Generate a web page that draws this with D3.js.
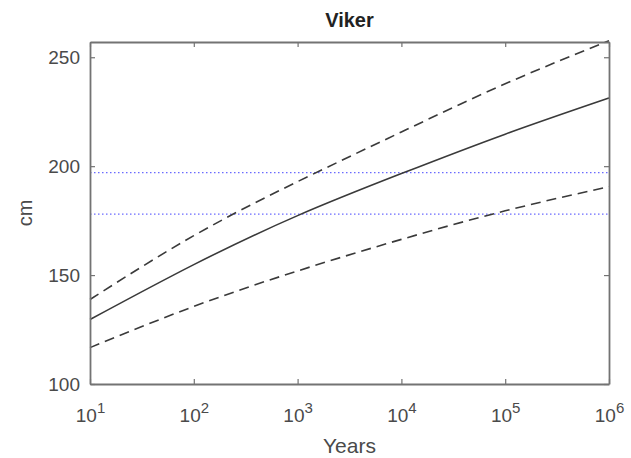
<!DOCTYPE html>
<html>
<head>
<meta charset="utf-8">
<script src="https://cdn.jsdelivr.net/npm/d3@7"></script>
<style>
body { margin:0; background:#fff; }
text { font-family: "Liberation Sans", Arial, sans-serif; }
</style>
</head>
<body>
<svg id="chart"></svg>
<script>
var years = [10, 100, 1000, 10000, 100000, 1000000];
var median = [129.6, 154.8, 177.3, 196.6, 214.7, 231.3];
var upper = [138.8, 168.1, 192.9, 215.7, 237.8, 257.6];
var lower = [116.7, 135.6, 151.9, 166.4, 179.5, 190.6];
var refLines = [197, 178];
var yTicks = [100, 150, 200, 250];
var xTicks = [1, 2, 3, 4, 5, 6]; // exponents

var screen = { width: 631, height: 458 };
var margins = { top: 42, bottom: 74, left: 90, right: 22 };
var width = screen.width - margins.left - margins.right;
var height = screen.height - margins.top - margins.bottom;

var svg = d3.select("#chart")
  .attr("width", screen.width)
  .attr("height", screen.height);

var xScale = d3.scaleLog().domain([10, 1e6]).range([0, width]);
var yScale = d3.scaleLinear().domain([100, 257]).range([height, 0]);

var plot = svg.append("g")
  .attr("transform", "translate(" + margins.left + "," + margins.top + ")");

// reference lines (blue dotted)
plot.selectAll("line.ref")
  .data(refLines)
  .enter()
  .append("line")
  .attr("class", "ref")
  .attr("x1", 0).attr("x2", width)
  .attr("y1", function(d) { return yScale(d); })
  .attr("y2", function(d) { return yScale(d); })
  .attr("stroke", "#6a6aff")
  .attr("stroke-width", 1.3)
  .attr("stroke-dasharray", "1.5,2.5");

var line = d3.line()
  .x(function(d, i) { return xScale(years[i]); })
  .y(function(d) { return yScale(d); })
  .curve(d3.curveNatural);

var series = [
  { values: upper, dash: "10,6" },
  { values: median, dash: null },
  { values: lower, dash: "10,6" }
];

plot.selectAll("path.curve")
  .data(series)
  .enter()
  .append("path")
  .attr("class", "curve")
  .attr("d", function(d) { return line(d.values); })
  .attr("fill", "none")
  .attr("stroke", "#3a3a3a")
  .attr("stroke-width", 1.6)
  .attr("stroke-dasharray", function(d) { return d.dash; });

// axes box with inward ticks
var axisColor = "#737373";
var tickLen = 5;

var xAxis = d3.axisBottom(xScale)
  .tickValues(xTicks.map(function(e) { return Math.pow(10, e); }))
  .tickSizeInner(-tickLen).tickSizeOuter(0)
  .tickFormat("");
var xAxisTop = d3.axisTop(xScale)
  .tickValues(xTicks.map(function(e) { return Math.pow(10, e); }))
  .tickSizeInner(-tickLen).tickSizeOuter(0).tickFormat("");
var yAxis = d3.axisLeft(yScale)
  .tickValues(yTicks).tickSizeInner(-tickLen).tickSizeOuter(0).tickPadding(10);
var yAxisRight = d3.axisRight(yScale)
  .tickValues(yTicks).tickSizeInner(-tickLen).tickSizeOuter(0).tickFormat("");

var gx = plot.append("g").attr("transform", "translate(0," + height + ")").call(xAxis);
var gxt = plot.append("g").call(xAxisTop);
var gy = plot.append("g").call(yAxis);
var gyr = plot.append("g").attr("transform", "translate(" + width + ",0)").call(yAxisRight);

[gx, gxt, gy, gyr].forEach(function(g) {
  g.select(".domain").attr("stroke", axisColor).attr("stroke-width", 1.8);
  g.selectAll(".tick line").attr("stroke", axisColor).attr("stroke-width", 1.2);
});

gy.selectAll(".tick text")
  .attr("font-size", "19px")
  .attr("fill", "#4a4a4a");

// x tick labels with superscript exponents
gx.selectAll(".tick").each(function(d, i) {
  var t = d3.select(this).append("text")
    .attr("y", 38)
    .attr("fill", "#4a4a4a")
    .attr("font-size", "19px")
    .attr("text-anchor", "middle");
  t.append("tspan").text("10");
  t.append("tspan").attr("dy", -9).attr("font-size", "15px").text(xTicks[i]);
});

// titles
svg.append("text")
  .attr("x", margins.left + width / 2)
  .attr("y", 27)
  .attr("text-anchor", "middle")
  .attr("font-size", "20px")
  .attr("font-weight", "bold")
  .attr("fill", "#222")
  .text("Viker");

svg.append("text")
  .attr("x", margins.left + width / 2)
  .attr("y", 453)
  .attr("text-anchor", "middle")
  .attr("font-size", "21px")
  .attr("fill", "#4a4a4a")
  .text("Years");

svg.append("text")
  .attr("transform", "translate(32," + (margins.top + height / 2) + ") rotate(-90)")
  .attr("text-anchor", "middle")
  .attr("font-size", "20px")
  .attr("fill", "#4a4a4a")
  .text("cm");
</script>
</body>
</html>
